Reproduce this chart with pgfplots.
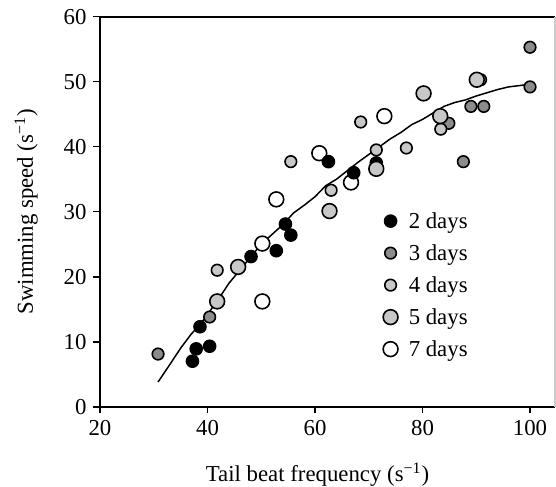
\documentclass[border=0pt]{standalone}
\usepackage{pgfplots}
\pgfplotsset{compat=1.18}
\usepackage{fontspec}
\setmainfont{Liberation Serif}
\definecolor{gthree}{HTML}{8C8C8C}
\definecolor{glight}{HTML}{C8C8C8}
\begin{document}
\begin{tikzpicture}[font=\fontsize{11.4}{13.7}\selectfont]
\begin{axis}[
  name=ax,
  scale only axis,
  width=227.5pt, height=195pt,
  xmin=20, xmax=104.65, ymin=0, ymax=60,
  axis x line=box, axis y line=left,
  axis line style={line width=0.9pt, -},
  xtick={20,40,60,80,100}, ytick={0,10,20,30,40,50,60},
  xtick pos=bottom, ytick pos=left,
  tick align=outside, major tick length=3.25pt,
  every tick/.style={black, line width=0.8pt},
  /pgf/number format/assume math mode=true,
  xlabel={Tail beat frequency (s\textsuperscript{\char"2212 1})},
  ylabel={Swimming speed (s\textsuperscript{\char"2212 1})},
  xlabel style={at={(axis description cs:0.478,-0.1923)}, anchor=base},
  ylabel style={at={(axis description cs:-0.1473,0.5)}, anchor=base, rotate=0},
  legend image code/.code={\path (-4.5pt,0pt) (8.5pt,0pt); \draw[#1] plot coordinates {(0pt,0pt)};},
  legend style={at={(axis cs:72.16,30.52)}, anchor=north west, draw=none, fill=none,
    inner sep=0pt, row sep=3.6pt, column sep=0pt,
    nodes={inner xsep=0.2pt, inner ysep=0pt, text height=10pt, text depth=2.4pt}},
  legend cell align=left,
]
% 7 days (open)
\addplot[only marks, mark=*, mark size=3.7pt, draw=black, fill=white, line width=0.8pt, forget plot]
coordinates {(50.2,16.2) (50.2,25.1) (52.8,31.9) (60.8,39.0) (66.7,34.5) (72.9,44.7)};
% 3 days
\addplot[only marks, mark=*, mark size=2.9pt, draw=black, fill=gthree, line width=0.8pt, forget plot]
coordinates {(30.8,8.1) (40.4,13.8) (84.9,43.6) (87.6,37.7) (89.0,46.2) (91.4,46.2) (100.0,55.3) (100.0,49.2)};
% 2 days
\addplot[only marks, mark=*, mark size=3pt, draw=black, fill=black, line width=0.8pt, forget plot]
coordinates {(37.2,7.0) (37.9,8.9) (40.4,9.3) (38.6,12.3) (48.1,23.1) (52.8,24.0) (54.5,28.1) (55.5,26.4) (62.5,37.7) (67.2,36.0) (71.4,37.5)};
% 4 days
\addplot[only marks, mark=*, mark size=2.9pt, draw=black, fill=glight, line width=0.8pt, forget plot]
coordinates {(41.8,21.0) (55.5,37.7) (63.0,33.3) (68.5,43.8) (71.4,39.5) (77.0,39.8) (83.4,42.7) (90.8,50.3)};
% 5 days
\addplot[only marks, mark=*, mark size=3.7pt, draw=black, fill=glight, line width=0.8pt, forget plot]
coordinates {(41.8,16.2) (45.7,21.5) (62.7,30.1) (71.4,36.6) (80.2,48.2) (83.3,44.7) (90.1,50.3)};
% fitted curve
\addplot[black, line width=0.75pt, forget plot] coordinates {
(30.8,3.8) (33,6.5) (35,9.0) (37,11.2) (38.6,12.6) (40,14.2) (42,16.5) (44,19) (46,21) (48,23) (50,25) (52,26.5) (54,28) (56,29.8) (58,31) (60,32.3) (62,34) (64,35) (66,36.3) (68,37.6) (70,38.8) (72,40) (74,41.2) (76,42.2) (78,43.4) (80,44.2) (82,45.2) (84,46.2) (86,46.8) (88,47.2) (90,47.8) (92,48.3) (94,48.8) (96,49.2) (98,49.4) (100,49.6)};
\addlegendimage{only marks, mark=*, mark size=3pt, draw=black, fill=black, line width=0.8pt}
\addlegendentry{2 days}
\addlegendimage{only marks, mark=*, mark size=2.9pt, draw=black, fill=gthree, line width=0.8pt}
\addlegendentry{3 days}
\addlegendimage{only marks, mark=*, mark size=2.9pt, draw=black, fill=glight, line width=0.8pt}
\addlegendentry{4 days}
\addlegendimage{only marks, mark=*, mark size=3.7pt, draw=black, fill=glight, line width=0.8pt}
\addlegendentry{5 days}
\addlegendimage{only marks, mark=*, mark size=3.7pt, draw=black, fill=white, line width=0.8pt}
\addlegendentry{7 days}
\end{axis}
\draw[black!20, line width=0.6pt] (ax.south east) -- (ax.north east);
\pgfresetboundingbox
\path[use as bounding box] ([shift={(-50pt,-40pt)}]ax.south west) rectangle ([shift={(0.5pt,8.35pt)}]ax.north east);
\end{tikzpicture}
\end{document}
